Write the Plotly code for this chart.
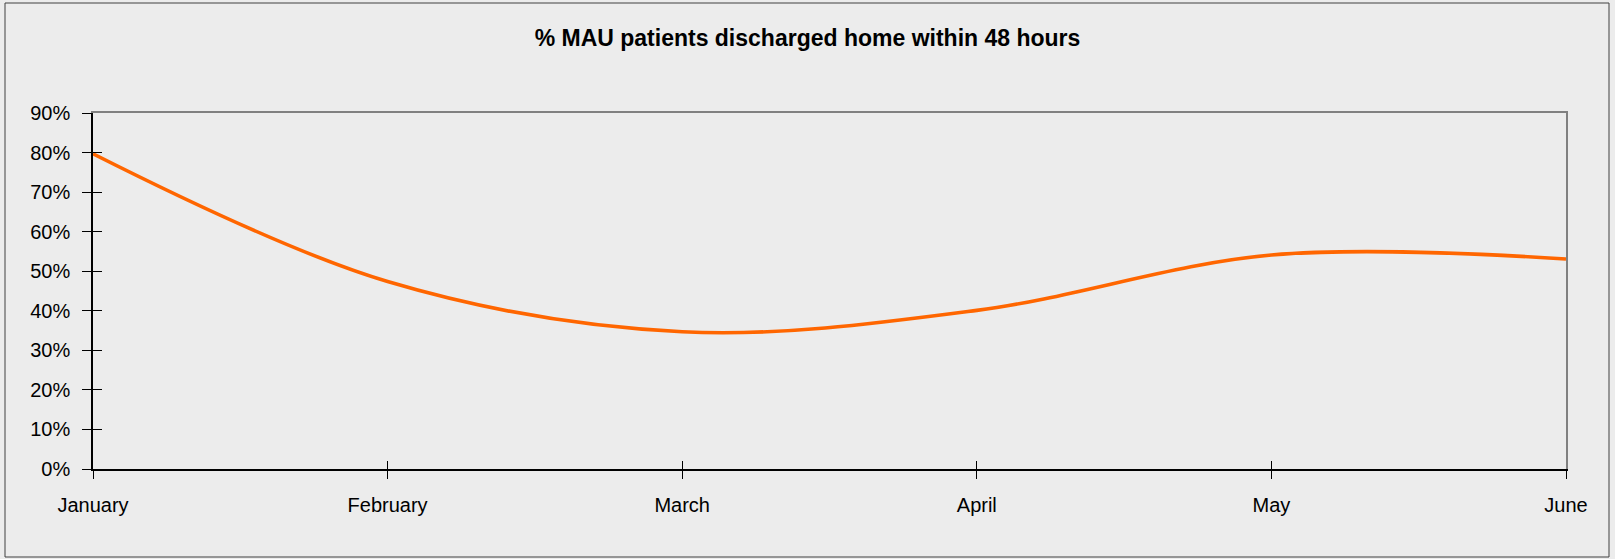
import plotly.graph_objects as go

months = ["January", "February", "March", "April", "May", "June"]
pct_home_48h = [0.797, 0.474, 0.347, 0.401, 0.541, 0.531]
y_ticks = [0, 0.1, 0.2, 0.3, 0.4, 0.5, 0.6, 0.7, 0.8, 0.9]

W, H = 1615, 559
ML, MR, MT, MB = 93, 49, 113, 90
FONT = "Liberation Sans, Arial, sans-serif"
BG = "#ECECEC"

xpos = list(range(len(months)))
xr = [0, len(months) - 1]
yr = [0, 0.9]

fig = go.Figure()
fig.add_trace(go.Scatter(
    x=xpos, y=pct_home_48h, mode="lines",
    line=dict(color="#FF6600", width=3.6, shape="spline", smoothing=1.0),
    hoverinfo="x+y", showlegend=False,
))
# invisible trace on overlay axes: inner halves of crossing tick marks + gray frame
fig.add_trace(go.Scatter(
    x=xpos, y=pct_home_48h, xaxis="x2", yaxis="y2", mode="lines",
    line=dict(width=0), opacity=0, hoverinfo="skip", showlegend=False,
))
fig.add_trace(go.Scatter(
    x=xpos, y=pct_home_48h, xaxis="x3", yaxis="y3", mode="lines",
    line=dict(width=0), opacity=0, hoverinfo="skip", showlegend=False,
))

ac = dict(showgrid=False, zeroline=False)
fig.update_layout(
    width=W, height=H,
    margin=dict(l=ML, r=MR, t=MT, b=MB, pad=0),
    paper_bgcolor=BG, plot_bgcolor=BG,
    font=dict(family=FONT, size=20, color="#000000"),
    title=dict(
        text="<b>% MAU patients discharged home within 48 hours</b>",
        x=0.5, xanchor="center", xref="container",
        y=1 - 38 / H, yanchor="middle", yref="container",
        font=dict(family=FONT, size=23, color="#000000"),
    ),
    xaxis=dict(
        **ac, range=xr,
        tickmode="array", tickvals=xpos, ticktext=months,
        ticks="outside", ticklen=8, tickcolor="#000000", tickwidth=1,
        showline=True, linecolor="#000000", linewidth=1.5,
        ticklabelstandoff=9, tickfont=dict(size=20),
    ),
    yaxis=dict(
        **ac, range=yr,
        tickmode="array", tickvals=y_ticks, tickformat=".0%",
        ticks="outside", ticklen=9, tickcolor="#000000", tickwidth=1,
        showline=True, linecolor="#000000", linewidth=1.5,
        ticklabelstandoff=8, tickfont=dict(size=20),
    ),
    # inner tick halves along the bottom and left axes
    xaxis2=dict(
        **ac, overlaying="x", range=xr, tickmode="array", tickvals=xpos,
        showticklabels=False, ticks="inside", ticklen=8, tickcolor="#000000",
        tickwidth=1, showline=False, side="bottom", anchor="y2",
    ),
    yaxis2=dict(
        **ac, overlaying="y", range=yr, tickmode="array", tickvals=y_ticks,
        showticklabels=False, ticks="inside", ticklen=9, tickcolor="#000000",
        tickwidth=1, showline=False, side="left", anchor="x2",
    ),
    # gray top and right frame lines of the plot area
    xaxis3=dict(
        **ac, overlaying="x", range=xr, showticklabels=False, ticks="",
        showline=True, linecolor="#808080", linewidth=1.5, side="top",
        anchor="y3",
    ),
    yaxis3=dict(
        **ac, overlaying="y", range=yr, showticklabels=False, ticks="",
        showline=True, linecolor="#808080", linewidth=1.5, side="right",
        anchor="x3",
    ),
    shapes=[
        dict(type="rect", xref="paper", yref="paper",
             x0=-(ML - 5) / (W - ML - MR), x1=1 + (MR - 6) / (W - ML - MR),
             y0=-(MB - 2) / (H - MT - MB), y1=1 + (MT - 3) / (H - MT - MB),
             line=dict(color="#404040", width=1), fillcolor="rgba(0,0,0,0)",
             layer="below"),
    ],
)

fig.write_html("out.html", config={"displayModeBar": False},
               post_script="document.body.style.margin='0';")
